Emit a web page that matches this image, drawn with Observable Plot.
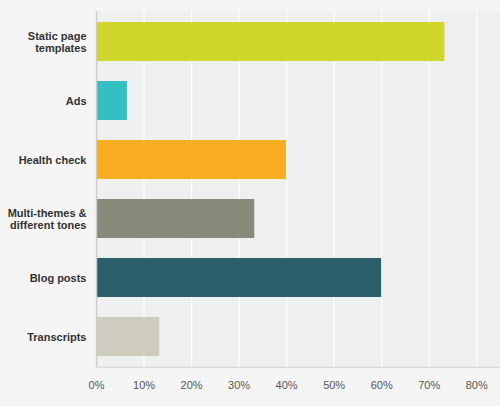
<!DOCTYPE html>
<html>
<head>
<meta charset="utf-8">
<script src="https://cdn.jsdelivr.net/npm/d3@7"></script>
<script src="https://cdn.jsdelivr.net/npm/@observablehq/plot@0.6"></script>
<style>
  body { margin: 0; background: #f5f5f5; }
</style>
</head>
<body>
<div id="chart"></div>
<script>
/* global d3, Plot */

// Survey answers, percent of respondents
const answers = [
  'Static page\ntemplates',
  'Ads',
  'Health check',
  'Multi-themes &\ndifferent tones',
  'Blog posts',
  'Transcripts'
];
const percents = [73.3, 6.5, 40, 33.3, 60, 13.3];
const colors = ['#d0d62a', '#33bfc1', '#f9ae22', '#8a8a7a', '#2b5f69', '#ceccbf'];
const ticks = [0, 10, 20, 30, 40, 50, 60, 70, 80];

const data = answers.map((a, i) => ({ answer: a, pct: percents[i], color: colors[i] }));

const chart = Plot.plot({
  width: 500,
  height: 406,
  marginLeft: 96,
  marginRight: 0,
  marginTop: 11,
  marginBottom: 39,
  style: { background: '#f5f5f5', fontFamily: 'Liberation Sans, Arial, sans-serif', fontSize: '11px', color: '#333' },
  x: { domain: [0, 85], ticks: ticks, tickFormat: d => d + '%', label: null },
  y: { domain: answers, paddingInner: 0.345, paddingOuter: 0.16, label: null },
  marks: [
    Plot.frame({ fill: '#eef0f0', stroke: null }),
    Plot.gridX(ticks, { stroke: '#fff', strokeOpacity: 1, strokeWidth: 1.2 }),
    Plot.barX(data, { x: 'pct', y: 'answer', fill: 'color' }),
    Plot.ruleX([0], { stroke: '#ccc', strokeWidth: 1.5 }),
    Plot.frame({ anchor: 'bottom', stroke: '#d8dad6', strokeWidth: 1.5 }),
    Plot.axisY({ tickSize: 0, tickPadding: 10, fontWeight: 'bold', fontSize: 11, lineHeight: 1.1, fill: '#333' }),
    Plot.axisX({ ticks: ticks, tickFormat: d => d + '%', tickSize: 0, tickPadding: 14, fill: '#555', label: null })
  ]
});
document.getElementById('chart').append(chart);
</script>
</body>
</html>
